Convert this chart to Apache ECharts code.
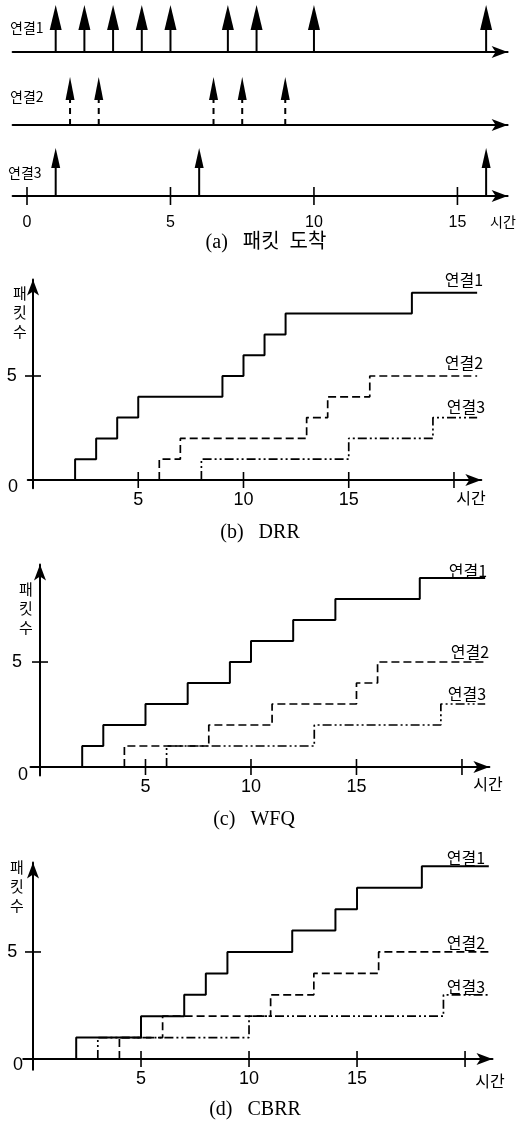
<!DOCTYPE html>
<html><head><meta charset="utf-8">
<script src="https://cdn.jsdelivr.net/npm/echarts@6/dist/echarts.min.js"></script>
<style>html,body{margin:0;padding:0;background:#fff}#c{width:516px;height:1122px}</style>
</head><body><div id="c"></div>
<script>
// ---------------- data ----------------
// (a) packet arrival times
const arrivalsConn1 = [1, 2, 3, 4, 5, 7, 8, 10, 16];
const arrivalsConn2 = [1.5, 2.5, 6.5, 7.5, 9];
const arrivalsConn3 = [1, 6, 16];
const arrivalTickValues = [0, 5, 10, 15];

// (b) DRR  : [time, packets served]
const drrConn1 = [[2,0],[2,1],[3,2],[4,3],[5,4],[9,5],[10,6],[11,7],[12,8],[18,9],[21.1,9]];
const drrConn2 = [[6,0],[6,1],[7,2],[13,3],[14,4],[16,5],[21.1,5]];
const drrConn3 = [[8,0],[8,1],[15,2],[19,3],[21.1,3]];
// (c) WFQ
const wfqConn1 = [[2,0],[2,1],[3,2],[5,3],[7,4],[9,5],[10,6],[12,7],[14,8],[18,9],[21.1,9]];
const wfqConn2 = [[4,0],[4,1],[8,2],[11,3],[15,4],[16,5],[21.1,5]];
const wfqConn3 = [[6,0],[6,1],[13,2],[19,3],[21.1,3]];
// (d) CBRR
const cbrrConn1 = [[2,0],[2,1],[5,2],[7,3],[8,4],[9,5],[12,6],[14,7],[15,8],[18,9],[21.1,9]];
const cbrrConn2 = [[4,0],[4,1],[6,2],[11,3],[13,4],[16,5],[21.1,5]];
const cbrrConn3 = [[3,0],[3,1],[10,2],[19,3],[21.1,3]];

const xTickValues = [5, 10, 15, 20];
const xTickLabels = [5, 10, 15];
const yTickValues = [5];
const yTickLabels = [5];
const connNames = ['연결1', '연결2', '연결3'];
const axisTimeName = '시간';
const axisCountName = '패\n킷\n수';
const captions = ['(a)   패킷  도착', '(b)   DRR', '(c)   WFQ', '(d)   CBRR'];

// ---------------- layout / style ----------------
const NUM_FONT = "'Liberation Sans',Arial,sans-serif";
const KR_FONT = "'Noto Sans CJK KR',sans-serif";
const SERIF = "'Liberation Serif','Noto Sans CJK KR',serif";

const arrowRows = [
  {grid:{left:12.65, width:495, top:5, height:47},  headW:12, headH:25, dash:null},
  {grid:{left:12.65, width:495, top:77, height:48}, headW:9,  headH:23, dash:[6,5]},
  {grid:{left:12.65, width:495, top:148, height:48},headW:9,  headH:20, dash:null}
];
const aX = {min:-0.5, max:16.75};

const stepPanels = [
  {grid:{left:27.74, width:453.6, top:279.5, height:208.8}, x:{min:-0.25, max:21.3}, y:{min:-0.4, max:9.64}, xm:3, ym:11, series:[drrConn1, drrConn2, drrConn3]},
  {grid:{left:30.5, width:458.9, top:564.6, height:210.8}, x:{min:-0.45, max:21.3}, y:{min:-0.4, max:9.64}, xm:3, ym:8.5, series:[wfqConn1, wfqConn2, wfqConn3]},
  {grid:{left:23.28, width:469.2, top:862.5, height:207.2}, x:{min:-0.45, max:21.27}, y:{min:-0.5, max:9.18}, xm:0, ym:6, series:[cbrrConn1, cbrrConn2, cbrrConn3]}
];
const lineStyles = [
  {width:2, type:'solid', z:5},
  {width:1.7, type:[8,4], z:4},
  {width:1.7, type:[9,3,2,3,2,3], z:3}
];

const axisLineStyle = {color:'#000', width:2};

const grids = [], xAxes = [], yAxes = [], series = [];

function arrowSeries(idx, times, row) {
  return {
    type:'custom', xAxisIndex:idx, yAxisIndex:idx, silent:true, z:6, clip:false,
    data: times.map(t => [t, 1]),
    renderItem(p, api) {
      const base = api.coord([api.value(0), 0]);
      const tip = api.coord([api.value(0), api.value(1)]);
      return {type:'group', children:[
        {type:'line', shape:{x1:base[0], y1:base[1], x2:tip[0], y2:tip[1]+row.headH-2},
         style:{stroke:'#000', lineWidth:2, lineDash: row.dash || null}},
        {type:'polygon', shape:{points:[[tip[0], tip[1]], [tip[0]-row.headW/2, tip[1]+row.headH], [tip[0]+row.headW/2, tip[1]+row.headH]]},
         style:{fill:'#000'}}
      ]};
    }
  };
}
function tickSeries(idx, xs, ys, half) {
  const data = xs.map(v => [v, 0, 0]).concat(ys.map(v => [0, v, 1]));
  return {
    type:'custom', xAxisIndex:idx, yAxisIndex:idx, silent:true, z:7, clip:false, data,
    renderItem(p, api) {
      const pt = api.coord([api.value(0), api.value(1)]);
      const o = api.value(2);
      return {type:'line',
        shape: o === 0 ? {x1:pt[0], y1:pt[1]-half, x2:pt[0], y2:pt[1]+half}
                       : {x1:pt[0]-half, y1:pt[1], x2:pt[0]+half, y2:pt[1]},
        style:{stroke:'#000', lineWidth:1.6}};
    }
  };
}

// panel (a)
const arrivals = [arrivalsConn1, arrivalsConn2, arrivalsConn3];
arrowRows.forEach((row, i) => {
  grids.push(Object.assign({containLabel:false, outerBoundsMode:'none'}, row.grid));
  xAxes.push({
    type:'value', gridIndex:i, min:aX.min, max:aX.max,
    axisLine:{show:true, onZero:true, symbol:['none','arrow'], symbolSize:[9,16], lineStyle:axisLineStyle},
    axisTick:{show:false}, splitLine:{show:false},
    axisLabel: i === 2 ? {show:true, customValues:arrivalTickValues, margin:19, color:'#000', fontFamily:NUM_FONT, fontSize:16}
                       : {show:false}
  });
  yAxes.push({type:'value', gridIndex:i, min:0, max:1, show:false});
  series.push(arrowSeries(i, arrivals[i], row));
});
series.push(tickSeries(2, arrivalTickValues, [], 9));

// panels (b)(c)(d)
stepPanels.forEach((pnl, k) => {
  const idx = 3 + k;
  grids.push(Object.assign({containLabel:false, outerBoundsMode:'none'}, pnl.grid));
  xAxes.push({
    type:'value', gridIndex:idx, min:pnl.x.min, max:pnl.x.max,
    axisLine:{show:true, onZero:true, symbol:['none','arrow'], symbolSize:[9,16], lineStyle:axisLineStyle},
    axisTick:{show:false}, splitLine:{show:false},
    axisLabel:{show:true, customValues:xTickLabels, margin:pnl.xm, color:'#000', fontFamily:NUM_FONT, fontSize:18}
  });
  yAxes.push({
    type:'value', gridIndex:idx, min:pnl.y.min, max:pnl.y.max,
    axisLine:{show:true, onZero:true, symbol:['none','arrow'], symbolSize:[9,16], lineStyle:axisLineStyle},
    axisTick:{show:false}, splitLine:{show:false},
    axisLabel:{show:true, customValues:yTickLabels, margin:pnl.ym, color:'#000', fontFamily:NUM_FONT, fontSize:18}
  });
  pnl.series.forEach((d, j) => {
    series.push({
      type:'line', xAxisIndex:idx, yAxisIndex:idx, data:d, step:'end', symbol:'none',
      silent:true, clip:false, z:lineStyles[j].z,
      lineStyle:{color:'#000', width:lineStyles[j].width, type:lineStyles[j].type}
    });
  });
  series.push(tickSeries(idx, xTickValues, yTickValues, 8));
});

// text labels
function txt(x, y, text, size, family, align) {
  return {type:'text', x, y, silent:true, z:10,
    style:{text, fontSize:size, fontFamily:family, fill:'#000', align: align || 'center', verticalAlign:'middle'}};
}
function vtxt(x, y) {
  return {type:'text', x, y, silent:true, z:10,
    style:{text:axisCountName, fontSize:15, fontFamily:KR_FONT, lineHeight:19, fill:'#000', align:'center', verticalAlign:'middle'}};
}
const graphic = [
  // (a)
  txt(10, 28, connNames[0], 14, KR_FONT, 'left'),
  txt(10, 97, connNames[1], 14, KR_FONT, 'left'),
  txt(8, 173, connNames[2], 14, KR_FONT, 'left'),
  txt(503, 222, axisTimeName, 14, KR_FONT),
  txt(266, 243, captions[0], 20, SERIF),
  // (b)
  txt(464, 280, connNames[0], 16, KR_FONT),
  txt(464, 363, connNames[1], 16, KR_FONT),
  txt(466, 407, connNames[2], 16, KR_FONT),
  txt(471, 498, axisTimeName, 16, KR_FONT),
  txt(13, 487, '0', 18, NUM_FONT),
  vtxt(20, 312),
  txt(260, 533, captions[1], 20, SERIF),
  // (c)
  txt(468, 571, connNames[0], 16, KR_FONT),
  txt(470, 652, connNames[1], 16, KR_FONT),
  txt(467, 694, connNames[2], 16, KR_FONT),
  txt(488, 784, axisTimeName, 16, KR_FONT),
  txt(23, 775, '0', 18, NUM_FONT),
  vtxt(26, 608),
  txt(254, 820, captions[2], 20, SERIF),
  // (d)
  txt(466, 858, connNames[0], 16, KR_FONT),
  txt(466, 943, connNames[1], 16, KR_FONT),
  txt(466, 987, connNames[2], 16, KR_FONT),
  txt(490, 1081, axisTimeName, 16, KR_FONT),
  txt(18, 1065, '0', 18, NUM_FONT),
  vtxt(17, 886),
  txt(255, 1110, captions[3], 20, SERIF)
];

const chart = echarts.init(document.getElementById('c'), null, {renderer:'canvas'});
chart.setOption({
  animation:false,
  backgroundColor:'#fff',
  grid:grids, xAxis:xAxes, yAxis:yAxes, series, graphic
});
</script></body></html>
